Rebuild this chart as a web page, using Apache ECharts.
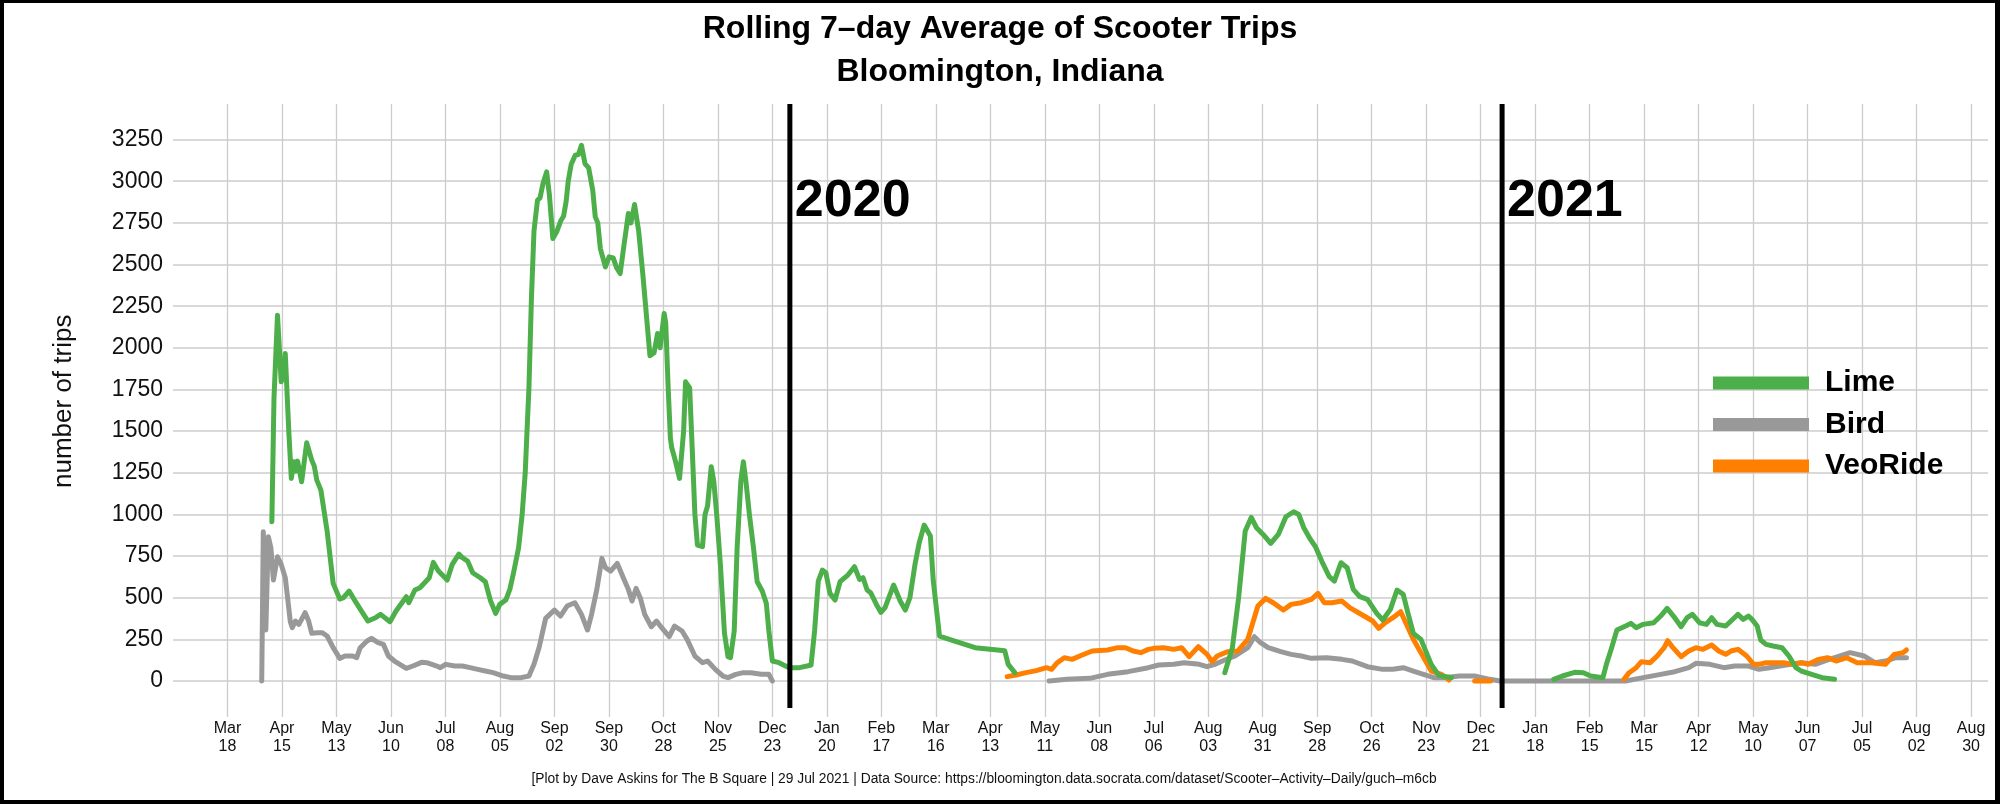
<!DOCTYPE html>
<html><head><meta charset="utf-8">
<script src="https://cdn.jsdelivr.net/npm/echarts@6/dist/echarts.min.js"></script>
<style>html,body{margin:0;padding:0;background:#fff}#c{width:2000px;height:804px}</style>
</head><body><div id="c"></div>
<script>
// ---------- text ----------
const titleText = 'Rolling 7–day Average of Scooter Trips\nBloomington, Indiana';
const yAxisTitle = 'number of trips';
const footerText = '[Plot by Dave Askins for The B Square | 29 Jul 2021 | Data Source: https://bloomington.data.socrata.com/dataset/Scooter–Activity–Daily/guch–m6cb';
const seriesNames = ['Lime', 'Bird', 'VeoRide'];
const seriesColors = ['#4DAF4A', '#999999', '#FF7F00'];
const yearMarkDates = ['2020-01-01', '2021-01-01'];
const yearLabels = ['2020', '2021'];
const monthNames = ['Jan','Feb','Mar','Apr','May','Jun','Jul','Aug','Sep','Oct','Nov','Dec'];
const yMin = 0, yMax = 3250, yStep = 250;
// x ticks every 28 days starting 2019-03-18 (day 0) up to day 896 (2021-08-30)
const tickStartDate = '2019-03-18';
const tickStepDays = 28;
const tickLastDay = 896;

// ---------- data: days since 2019-03-18, rolling 7-day average trips ----------
const limeDays = [
 22.8,23.9,25.7,27.6,28.9,29.7,31.5,32.8,34.1,35.2,
 36.0,38.1,40.7,43.3,44.6,45.9,48.0,51.2,54.3,57.7,
 59.6,62.5,66.1,69.6,72.2,76.1,78.7,83.5,86.6,91.9,
 93.2,96.3,98.9,103.7,105.8,108.4,112.9,115.5,118.9,120.7,
 123.4,126.0,129.9,132.5,135.2,137.8,139.9,143.0,145.1,147.0,
 149.6,151.4,153.0,154.3,154.9,156.2,157.5,159.3,160.6,162.2,
 164.0,165.4,167.2,169.3,171.4,172.7,174.0,175.1,176.6,178.7,
 180.3,181.9,183.7,185.6,187.7,189.0,190.3,191.6,194.2,196.1,
 198.2,200.0,201.8,203.4,206.0,207.3,209.2,211.3,213.4,215.2,
 217.1,219.2,221.0,222.3,224.4,225.2,226.5,227.6,228.3,230.2,
 232.3,234.4,235.4,237.5,238.8,240.2,241.5,244.1,245.4,246.7,
 248.6,249.9,251.4,253.3,255.4,257.2,258.5,260.4,261.9,263.8,
 265.1,266.4,268.2,270.3,272.2,274.8,276.9,278.2,280.0,283.4,
 288.6,293.9,297.8,299.9,301.7,303.6,305.7,307.5,309.6,312.2,
 314.8,318.8,322.2,324.8,326.6,328.7,330.5,333.9,335.8,337.9,
 342.3,345.7,348.3,350.7,353.3,355.4,358.0,361.2,362.7,365.9,
 373.7,384.2,399.4,401.2,404.6,
 460,
 512.5,516.4,519.6,523.0,526.1,528.8,532.2,536.1,540.0,543.9,
 547.9,550.5,553.1,556.5,559.1,562.3,566.2,568.8,572.2,575.4,
 578.5,581.9,585.8,590.6,593.7,597.6,601.0,604.2,606.8,609.4,
 613.3,618.6,622.5,629.0,
 655,
 681.5,686.0,692.3,696.8,700.5,706.8,708.6,711.3,714.0,718.5,
 721.2,723.9,727.5,732.9,736.5,739.8,743.7,747.0,750.1,752.8,
 756.4,760.0,762.7,765.4,769.9,774.4,776.2,778.9,781.6,783.4,
 786.1,787.9,790.6,794.3,798.8,802.4,806.0,808.7,814.1,819.5,
 825.8
];
const limeValues = [
 956,1700,2196,1796,1850,1966,1500,1216,1316,1260,
 1320,1196,1430,1326,1290,1206,1146,900,586,492,
 500,540,470,406,360,380,400,356,420,506,
 470,546,560,620,712,660,606,700,762,740,
 720,650,620,596,480,406,460,486,550,650,
 800,996,1250,1600,1756,2300,2700,2886,2900,2990,
 3056,2920,2656,2700,2766,2790,2876,3000,3100,3156,
 3160,3216,3106,3080,2946,2786,2750,2596,2486,2546,
 2540,2480,2446,2586,2806,2750,2860,2700,2446,2206,
 1952,1970,2086,2000,2206,2150,1750,1456,1400,1320,
 1216,1500,1796,1760,1400,1000,816,806,1000,1050,
 1286,1200,1000,700,286,146,140,300,800,1200,
 1316,1200,1000,800,596,540,466,300,120,110,
 80,80,90,96,300,600,666,650,526,486,
 596,636,686,610,620,546,530,450,412,440,
 576,480,426,500,700,826,936,870,600,270,
 240,200,182,100,50,
 null,
 50,200,500,900,982,920,880,826,880,986,
 1016,1000,920,850,806,720,626,600,710,680,
 550,506,490,406,366,430,546,520,400,286,
 250,100,34,20,
 null,
 10,30,52,50,30,20,100,200,306,330,
 346,320,340,350,390,436,380,326,380,400,
 350,340,380,340,330,380,400,370,390,370,
 330,246,220,210,200,150,80,60,40,20,
 10
];
const birdDays = [
 17.6,18.4,19.7,21.0,22.3,23.6,25.7,27.6,29.7,32.3,
 33.3,34.9,36.7,39.9,41.7,43.3,45.9,48.6,51.2,54.3,
 57.7,60.4,64.3,66.4,68.2,71.7,74.0,77.4,80.1,82.7,
 85.8,91.9,95.3,99.7,102.4,107.6,109.4,112.1,116.8,120.7,
 124.7,128.6,132.5,136.5,141.7,145.7,150.9,154.9,157.5,160.1,
 163.5,168.0,171.1,174.5,178.5,181.9,185.0,187.1,189.8,192.4,
 194.2,196.9,200.3,203.4,206.0,207.9,210.0,212.1,214.4,217.8,
 220.5,223.1,227.0,229.7,233.6,236.2,240.2,244.1,246.7,250.7,
 254.6,257.2,261.2,265.1,269.0,274.3,278.2,280.0,
 350,
 422.2,431.3,443.1,452.3,462.8,473.2,478.5,486.3,491.6,499.4,
 503.4,507.3,512.5,517.8,524.3,527.7,530.9,534.8,541.3,546.6,
 551.8,557.0,564.9,572.7,578.0,585.8,593.7,598.9,604.2,609.4,
 614.6,619.9,625.1,633.0,640.8,648.7,653.9,684.0,710.4,718.5,
 727.5,736.5,743.7,751.0,754.6,761.8,769.0,774.4,781.6,787.0,
 792.4,797.9,803.3,808.7,815.9,823.1,833.9,841.1,846.6,852.0,
 857.4,862.8
];
const birdValues = [
 0,896,306,866,800,606,746,700,620,356,
 320,360,340,410,360,286,290,290,270,200,
 136,150,150,140,200,240,256,230,220,150,
 120,76,90,112,110,90,80,100,90,90,
 80,70,60,50,30,20,20,30,100,200,
 376,426,390,450,470,400,306,400,550,736,
 680,660,706,620,550,480,556,500,400,326,
 360,320,266,330,300,250,150,110,120,70,
 30,20,40,50,50,40,40,0,
 null,
 0,10,16,40,56,80,96,100,110,100,
 86,100,126,150,200,266,230,200,176,160,
 150,136,140,130,120,86,70,70,80,60,
 40,20,20,30,30,10,0,0,0,0,
 20,40,56,80,106,100,80,90,90,70,
 80,90,100,110,100,130,170,150,110,120,
 140,140
];
const veoDays = [
 400.7,405.2,410.4,415.6,420.9,423.5,426.1,430.0,434.0,439.2,
 444.4,452.3,457.5,461.5,465.4,469.3,473.2,475.9,481.1,486.3,
 490.3,494.2,498.9,503.4,506.0,508.6,513.8,519.1,524.3,529.5,
 533.5,537.4,542.6,546.6,551.8,557.0,560.4,563.6,567.5,572.7,
 576.7,583.2,588.5,591.6,595.0,598.9,602.9,605.5,609.4,613.3,
 618.6,623.8,627.7,
 634,
 640.9,649.1,
 680,
 717.6,720.3,723.9,726.6,731.1,734.7,738.3,740.1,742.8,747.0,
 750.9,754.6,758.2,762.7,766.3,769.9,772.6,776.2,780.7,784.3,
 787.0,790.6,799.7,804.2,808.7,812.3,817.7,822.2,826.7,832.1,
 837.5,844.8,852.0,856.5,861.0,862.8
];
const veoValues = [
 26,36,50,62,80,70,106,140,130,156,
 180,186,200,200,180,170,190,196,200,190,
 200,146,206,160,116,150,176,180,250,450,
 496,470,426,460,470,490,526,470,470,480,
 440,396,360,316,350,380,416,350,250,170,
 60,40,6,
 null,
 0,0,
 null,
 10,50,80,116,110,150,200,242,200,146,
 180,200,190,216,180,160,180,190,150,100,
 100,110,110,100,110,100,130,140,120,140,
 110,110,100,160,170,186
];

// ---------- build ----------
const FONT = "'Liberation Sans', Arial, Helvetica, sans-serif";
const DAY = 864e5;
const T0 = Date.parse(tickStartDate + 'T00:00:00Z');
const X_MIN = T0 - tickStepDays * DAY;
const X_MAX = T0 + 904.7 * DAY;
const toPts = (days, vals) => days.map((d, i) => [T0 + d * DAY, vals[i] === null ? '-' : vals[i]]);
const yearTs = yearMarkDates.map(s => Date.parse(s + 'T00:00:00Z'));

const GRID_L = 173, GRID_R = 12;
const chart = echarts.init(document.getElementById('c'), null, { renderer: 'canvas' });

function xLabel(v) {
  const d = Math.round((v - T0) / DAY);
  if (d < 0 || d > tickLastDay || d % tickStepDays !== 0) return '';
  const dt = new Date(T0 + d * DAY);
  return monthNames[dt.getUTCMonth()] + '\n' + String(dt.getUTCDate()).padStart(2, '0');
}

const lineSeries = (idx, days, vals, z) => ({
  name: seriesNames[idx], type: 'line', xAxisIndex: 0, yAxisIndex: 0,
  data: toPts(days, vals), showSymbol: false, symbol: 'none', z: z,
  connectNulls: false, clip: false,
  itemStyle: { color: seriesColors[idx] },
  lineStyle: { color: seriesColors[idx], width: 5, join: 'round', cap: 'round' }
});

const yearLineData = [];
yearTs.forEach((t, i) => {
  if (i > 0) yearLineData.push([t, '-']);
  yearLineData.push([t, 1], [t, 0.0147]);
});

chart.setOption({
  animation: false,
  backgroundColor: '#ffffff',
  textStyle: { fontFamily: FONT },
  title: {
    text: titleText, left: 'center', top: 8, padding: 0,
    textStyle: { fontFamily: FONT, fontSize: 32, fontWeight: 'bold', color: '#000', lineHeight: 43 }
  },
  legend: {
    data: seriesNames, orient: 'vertical', left: 1713, top: 368, padding: 0,
    icon: 'rect', itemWidth: 96, itemHeight: 13, itemGap: 11.5,
    textStyle: { fontFamily: FONT, fontSize: 30, fontWeight: 'bold', color: '#000', lineHeight: 30, padding: [0, 0, 0, 11] }
  },
  grid: [
    { left: GRID_L, right: GRID_R, top: 139.6, bottom: 123, outerBoundsMode: 'none', containLabel: false },
    { left: GRID_L, right: GRID_R, top: 104, bottom: 87, outerBoundsMode: 'none', containLabel: false }
  ],
  xAxis: [
    { type: 'value', gridIndex: 0, min: X_MIN, max: X_MAX, show: false },
    { type: 'value', gridIndex: 1, min: X_MIN, max: X_MAX, interval: tickStepDays * DAY,
      axisLine: { show: false }, axisTick: { show: false },
      splitLine: { show: true, showMinLine: false, showMaxLine: false, lineStyle: { color: '#cccccc', width: 1.3 } },
      axisLabel: { formatter: xLabel, fontFamily: FONT, fontSize: 16, lineHeight: 18, color: '#111', margin: 3,
        showMinLabel: true, showMaxLabel: true, hideOverlap: false, interval: 0 } }
  ],
  yAxis: [
    { type: 'value', gridIndex: 0, min: yMin, max: yMax, interval: yStep,
      name: yAxisTitle, nameLocation: 'middle', nameGap: 96,
      nameTextStyle: { fontFamily: FONT, fontSize: 26, color: '#111', padding: [0, 0, 0, 18] },
      axisLine: { show: false }, axisTick: { show: false },
      splitLine: { show: true, lineStyle: { color: '#cccccc', width: 1.5 } },
      axisLabel: { formatter: v => String(v), fontFamily: FONT, fontSize: 23, color: '#111', margin: 10 } },
    { type: 'value', gridIndex: 1, min: 0, max: 1, show: false }
  ],
  series: [
    lineSeries(1, birdDays, birdValues, 2),
    lineSeries(2, veoDays, veoValues, 3),
    lineSeries(0, limeDays, limeValues, 4),
    { type: 'line', xAxisIndex: 1, yAxisIndex: 1, data: yearLineData, showSymbol: false, symbol: 'none',
      connectNulls: false, clip: false, silent: true, z: 5,
      lineStyle: { color: '#000', width: 5, cap: 'butt' } },
    { type: 'scatter', xAxisIndex: 1, yAxisIndex: 1, data: yearTs.map(t => [t, 0.841]),
      symbolSize: 0, itemStyle: { color: '#000', opacity: 1 }, silent: true, z: 6,
      label: { show: true, position: 'right', distance: 5, formatter: p => yearLabels[p.dataIndex],
        fontFamily: FONT, fontSize: 52, fontWeight: 'bold', color: '#000', opacity: 1, textBorderWidth: 0 } }
  ],
  graphic: [
    { type: 'text', x: 984, y: 779, style: { text: footerText, fontFamily: FONT, fontSize: 13.8, fill: '#111', align: 'center', verticalAlign: 'middle' } },
    { type: 'rect', shape: { x: 0, y: 0, width: 2000, height: 3 }, style: { fill: '#000' } },
    { type: 'rect', shape: { x: 0, y: 800, width: 2000, height: 4 }, style: { fill: '#000' } },
    { type: 'rect', shape: { x: 0, y: 0, width: 4, height: 804 }, style: { fill: '#000' } },
    { type: 'rect', shape: { x: 1995, y: 0, width: 5, height: 804 }, style: { fill: '#000' } }
  ]
});
</script>
</body></html>
